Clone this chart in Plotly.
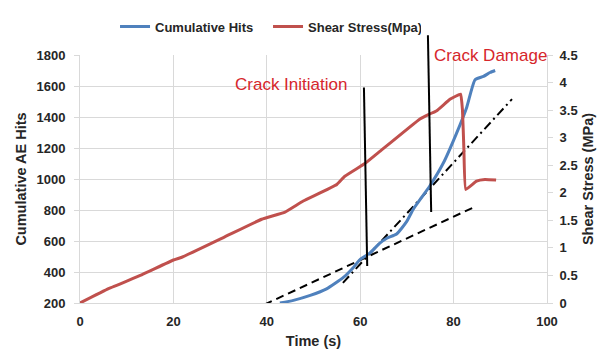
import plotly.graph_objects as go

# Cumulative AE hits (left axis)
hits_t = [42.8, 45.7, 49.3, 52.8, 56.4, 58.5, 60.0, 62.1, 64.2, 65.7, 67.8, 69.9,
          71.4, 74.9, 77.8, 80.6, 82.8, 84.6, 86.4, 87.8, 88.9]
hits_v = [200, 217, 249, 291, 365, 428, 481, 523, 586, 618, 645, 723,
          807, 955, 1103, 1293, 1462, 1641, 1662, 1687, 1700]

# Shear stress (right axis)
stress_t = [0, 6.1, 13.2, 20, 21.8, 31, 38.9, 43.9, 47.8, 55, 56.7, 61, 64.2,
            72.8, 74.9, 76.4, 79.3, 81.5, 81.9, 82.2, 82.6, 84.9, 86.7, 89.1]
stress_v = [0, 0.26, 0.51, 0.78, 0.83, 1.2, 1.52, 1.65, 1.85, 2.15, 2.30, 2.53, 2.75,
            3.34, 3.43, 3.49, 3.70, 3.79, 3.5, 2.8, 2.06, 2.21, 2.24, 2.23]

# Trend lines (hits axis)
dash_t = [39.5, 84.5]
dash_v = [190, 820]
dashdot_t = [56.3, 92.5]
dashdot_v = [330, 1515]

# Marker lines (time, hits)
init_t = [60.8, 61.5]
init_v = [1590, 439]
damage_t = [74.5, 75.2]
damage_v = [1927, 787]

x_ticks = [0, 20, 40, 60, 80, 100]
y_range = [200, 1800]
y2_range = [0, 4.5]

FONT = "Liberation Sans"
BLUE = "#4F81BD"
RED = "#C0504D"
TXT_RED = "#D6262B"
GRID = "#D9D9D9"

fig = go.Figure()
fig.add_trace(go.Scatter(x=dash_t, y=dash_v, mode="lines", showlegend=False,
                         line=dict(color="black", width=2, dash="8px,5px")))
fig.add_trace(go.Scatter(x=dashdot_t, y=dashdot_v, mode="lines", showlegend=False,
                         line=dict(color="black", width=2, dash="9px,4px,2px,4px")))
fig.add_trace(go.Scatter(x=hits_t, y=hits_v, mode="lines", name="Cumulative Hits",
                         line=dict(color=BLUE, width=3, shape="spline", smoothing=0.5)))
fig.add_trace(go.Scatter(x=stress_t, y=stress_v, mode="lines", name="Shear Stress(Mpa)",
                         yaxis="y2", line=dict(color=RED, width=3, shape="spline", smoothing=0.3)))

def to_paper(v):
    return (v - y_range[0]) / (y_range[1] - y_range[0])

fig.add_shape(type="line", xref="x", yref="y", x0=init_t[0], y0=init_v[0],
              x1=init_t[1], y1=init_v[1], line=dict(color="black", width=2))
fig.add_shape(type="line", xref="x", yref="paper", x0=damage_t[0], y0=to_paper(damage_v[0]),
              x1=damage_t[1], y1=to_paper(damage_v[1]), line=dict(color="black", width=2))

fig.add_annotation(text="Crack Initiation", x=45.2, y=1610, xref="x", yref="y",
                   showarrow=False, font=dict(family=FONT, size=17, color=TXT_RED))
fig.add_annotation(text="Crack Damage", x=75.4, y=to_paper(1870), xref="x", yref="paper",
                   xanchor="left", showarrow=False,
                   font=dict(family=FONT, size=17, color=TXT_RED))

axis_font = dict(family=FONT, size=13, color="#262626")
title_font = dict(family=FONT, size=14.5, color="#262626")

fig.update_layout(
    width=608, height=360,
    margin=dict(l=80, r=61, t=50, b=57),
    paper_bgcolor="white", plot_bgcolor="white",
    font=dict(family=FONT),
    legend=dict(orientation="h", x=0.075, y=1.175, xanchor="left", yanchor="top",
                font=dict(family=FONT, size=13, color="#262626", weight="bold"),
                itemwidth=30, tracegroupgap=0, bgcolor="rgba(0,0,0,0)",
                entrywidth=108, entrywidthmode="pixels"),
    xaxis=dict(range=[0, 100], tickvals=x_ticks, showgrid=True, gridcolor=GRID,
               showline=True, linecolor=GRID, linewidth=1, zeroline=False,
               ticks="", tickfont=dict(axis_font, weight="bold"), ticklabelstandoff=6,
               title=dict(text="<b>Time (s)</b>", font=title_font, standoff=8)),
    yaxis=dict(range=y_range, dtick=200, showgrid=True, gridcolor=GRID,
               showline=True, linecolor=GRID, linewidth=1, zeroline=False,
               ticks="outside", ticklen=5, tickcolor=GRID,
               tickfont=dict(axis_font, weight="bold"), ticklabelstandoff=6,
               title=dict(text="<b>Cumulative AE Hits</b>", font=title_font, standoff=6)),
    yaxis2=dict(range=y2_range, dtick=0.5, overlaying="y", side="right",
                showgrid=False, showline=True, linecolor=GRID, linewidth=1, zeroline=False,
                ticks="outside", ticklen=5, tickcolor=GRID,
                tickfont=dict(axis_font, weight="bold"), ticklabelstandoff=4,
                title=dict(text="<b>Shear Stress (MPa)</b>", font=title_font, standoff=6)),
)

fig.write_html("out.html")
